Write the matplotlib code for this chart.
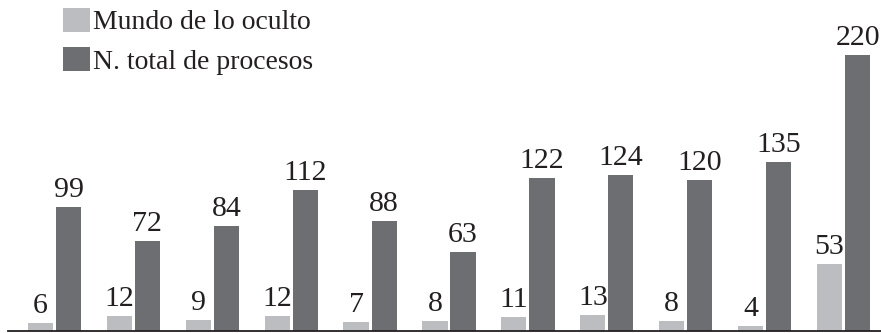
import numpy as np
import matplotlib
matplotlib.use("Agg")
import matplotlib.pyplot as plt

# Data
ocultos = [6, 12, 9, 12, 7, 8, 11, 13, 8, 4, 53]
totales = [99, 72, 84, 112, 88, 63, 122, 124, 120, 135, 220]
labels = ["Mundo de lo oculto", "N. total de procesos"]

light = "#bcbdc0"
dark = "#6d6e71"
txt = "#231f20"

plt.rcParams["font.family"] = ["Liberation Serif", "DejaVu Serif"]

fig = plt.figure(figsize=(8.81, 3.33), dpi=100)
ax = fig.add_axes([8 / 881, 2 / 333, 873 / 881, 331 / 333])

x = np.arange(len(totales))
w = 0.32
off = 0.178
b1 = ax.bar(x - off, ocultos, w, color=light, label=labels[0], zorder=2)
b2 = ax.bar(x + off, totales, w, color=dark, label=labels[1], zorder=2)

for rect, v in zip(list(b1) + list(b2), ocultos + totales):
    ax.text(rect.get_x() + rect.get_width() / 2, v + 8, str(v),
            ha="center", va="baseline", fontsize=21.5, color=txt)

ax.set_xlim(-0.589, 10.475)
ax.set_ylim(0, 263.8)
for s in ["top", "right", "left"]:
    ax.spines[s].set_visible(False)
ax.spines["bottom"].set_color(txt)
ax.spines["bottom"].set_linewidth(1.3)
ax.set_xticks([])
ax.set_yticks([])
ax.patch.set_alpha(0)

leg = fig.legend(loc="upper left", bbox_to_anchor=(44 / 881, 1.035),
                 frameon=False, fontsize=20, handlelength=0.95,
                 handleheight=0.95, handletextpad=0.12, labelspacing=0.42,
                 borderpad=0.2)
for t in leg.get_texts():
    t.set_color(txt)

fig.savefig("out.png", dpi=100)
